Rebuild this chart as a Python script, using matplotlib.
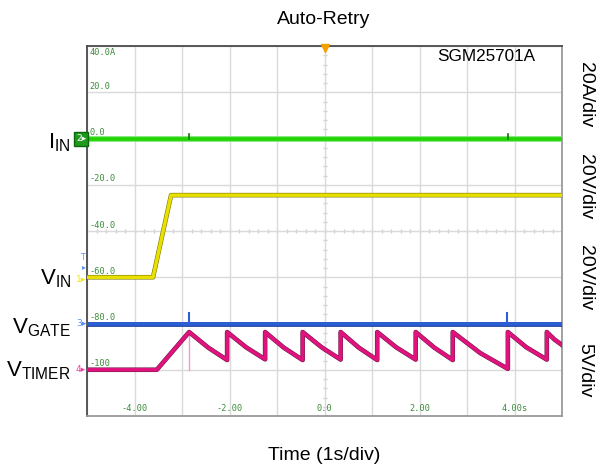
import numpy as np
import matplotlib
matplotlib.use("Agg")
from matplotlib import pyplot as plt
import matplotlib.patheffects as pe

plt.rcParams['font.family'] = ['Liberation Sans', 'DejaVu Sans']
plt.rcParams['mathtext.fontset'] = 'custom'
plt.rcParams['mathtext.rm'] = 'Liberation Sans'
plt.rcParams['mathtext.it'] = 'Liberation Sans'

# screen coordinates of the scope (1 s/div horizontally, 20 units/div vertically)
# I_IN trace
iin_t = [-5.0, 5.0]
iin_v = [-0.3, -0.3]
iin_spike_t = [-2.85, 3.86]
iin_spike_v = [2.0, 2.0]

# V_IN trace
vin_t = [-5.0, -3.61, -3.23, 5.0]
vin_v = [-60.0, -60.0, -24.5, -24.5]

# V_GATE trace
vgate_t = [-5.0, 5.0]
vgate_v = [-80.3, -80.3]
vgate_spike_t = [-2.85, 3.84]
vgate_spike_v = [-75.4, -75.4]

# V_TIMER trace (peaks, mid points, troughs)
timer_t = [-5.0, -3.53, -2.85,
           -2.45, -2.05, -2.05,
           -1.65, -1.25, -1.25,
           -0.86, -0.46, -0.46,
           -0.06, 0.34, 0.34,
           0.72, 1.11, 1.11,
           1.51, 1.92, 1.92,
           2.31, 2.70, 2.70,
           3.28, 3.86, 3.86,
           4.25, 4.68, 4.68,
           4.84, 5.0]
timer_v = [-100.0, -100.0, -83.7,
           -90.4, -95.8, -83.7,
           -90.3, -95.5, -83.7,
           -90.4, -95.8, -83.7,
           -90.3, -95.6, -83.7,
           -90.4, -95.8, -83.7,
           -90.3, -95.6, -83.7,
           -90.4, -95.8, -83.7,
           -92.8, -99.6, -83.7,
           -90.3, -95.6, -83.7,
           -86.9, -89.3]
timer_dip_t = [-2.85, -2.85]
timer_dip_v = [-83.7, -100.0]

ytick_vals = [40, 20, 0, -20, -40, -60, -80, -100]
ytick_text = ['40.0A', '20.0', '0.0', '-20.0', '-40.0', '-60.0', '-80.0', '-100']
xtick_vals = [-4, -2, 0, 2, 4]
xtick_text = ['-4.00', '-2.00', '0.0', '2.00', '4.00s']

scale_text = ['20A/div', '20V/div', '20V/div', '5V/div']
scale_y = [95, 187, 278, 370]

W, H = 608, 470
fig = plt.figure(figsize=(W / 100, H / 100), dpi=100)
ax = fig.add_axes([87 / W, 1 - 416 / H, 475 / W, 370 / H])
ax.set_xlim(-5, 5)
ax.set_ylim(-120, 40)
ax.set_xticks(np.arange(-5, 6, 1))
ax.set_yticks(np.arange(-120, 41, 20))
ax.grid(True, color='#dadada', lw=1)
ax.tick_params(length=0, labelbottom=False, labelleft=False)
for s in ['left', 'top']:
    ax.spines[s].set_color('#4a4a4a')
    ax.spines[s].set_linewidth(1.3)
for s in ['right', 'bottom']:
    ax.spines[s].set_color('#9a9a9a')
    ax.spines[s].set_linewidth(1.3)

# small division marks on center lines
ax.scatter(np.zeros(40), np.arange(-120, 40, 4), marker='_', s=12, color='#cfcfcf', lw=1, zorder=1)
ax.scatter(np.arange(-5, 5, 0.2), np.full(50, -40), marker='|', s=12, color='#cfcfcf', lw=1, zorder=1)

# traces
ax.plot(iin_t, iin_v, color='#22d400', lw=2.6, zorder=3,
        path_effects=[pe.Stroke(linewidth=4.2, foreground='#7fe57a'), pe.Normal()])
for t, v in zip(iin_spike_t, iin_spike_v):
    ax.plot([t, t], [iin_v[0], v], color='#117700', lw=1.2, zorder=3)

ax.plot(vin_t, vin_v, color='#e8e000', lw=2.5, zorder=3,
        path_effects=[pe.Stroke(linewidth=3.3, foreground='#7a7600'), pe.Normal()])

ax.plot(vgate_t, vgate_v, color='#2a5fd6', lw=2.6, zorder=3,
        path_effects=[pe.Stroke(linewidth=3.4, foreground='#1c3d99'), pe.Normal()])
for t, v in zip(vgate_spike_t, vgate_spike_v):
    ax.plot([t, t], [vgate_v[0], v], color='#2a5fd6', lw=1.5, zorder=3)

ax.plot(timer_dip_t, timer_dip_v, color='#f29ac8', lw=1.0, zorder=3)
ax.plot(timer_t, timer_v, color='#e0127e', lw=2.6, zorder=4,
        path_effects=[pe.Stroke(linewidth=3.3, foreground='#6a1a42'), pe.Normal()])

# trigger marker
ax.plot([0], [39.2], marker='v', color='#f5a000', ms=6, clip_on=False, zorder=6)

# scope labels inside the grid
mono = 'DejaVu Sans Mono'
for v, s in zip(ytick_vals, ytick_text):
    ax.text(-4.94, v + (-0.8 if v == 40 else 0.6), s, family=mono, fontsize=6.2,
            color='#3d8c3d', va='top' if v == 40 else 'bottom', ha='left')
for t, s in zip(xtick_vals, xtick_text):
    ax.text(t, -118.8, s, family=mono, fontsize=6.2, color='#3d8c3d', ha='center', va='bottom')

ax.text(3.4, 35.5, 'SGM25701A', fontsize=12.3, ha='center', va='center')

fig.text(324 / W, 1 - 20 / H, 'Auto-Retry', fontsize=14, ha='center', va='center')
fig.text(324 / W, 1 - 456 / H, 'Time (1s/div)', fontsize=14, ha='center', va='center')

for s, y in zip(scale_text, scale_y):
    fig.text(585 / W, 1 - y / H, s, fontsize=14, rotation=-90, ha='center', va='center')

left_labels = [r'$\mathrm{I_{IN}}$', r'$\mathrm{V_{IN}}$', r'$\mathrm{V_{GATE}}$', r'$\mathrm{V_{TIMER}}$']
left_base = [148, 284, 333, 376]
for s, y in zip(left_labels, left_base):
    fig.text(71 / W, 1 - y / H, s, fontsize=16, ha='right', va='baseline')

# channel markers at left edge
ch_text = ['2', '1', '3', '4']
ch_col = ['#ffffff', '#f0e800', '#5a8ef0', '#f040a0']
ch_y = [139, 279, 323, 369]
for s, c, y in zip(ch_text, ch_col, ch_y):
    kw = {}
    if s == '2':
        kw = dict(bbox=dict(boxstyle='square,pad=0.25', fc='#1f9a1f', ec='#0a6a0a'))
    fig.text(81 / W, 1 - y / H, s + '\u25B8', fontsize=6.5, color=c, ha='center', va='center',
             family='DejaVu Sans', **kw)
fig.text(83.5 / W, 1 - 262 / H, 'T\n\u25B8', fontsize=5.5, color='#5a8ef0', ha='center',
         va='center', family='DejaVu Sans', linespacing=0.9)

fig.savefig('out.png', dpi=100)
